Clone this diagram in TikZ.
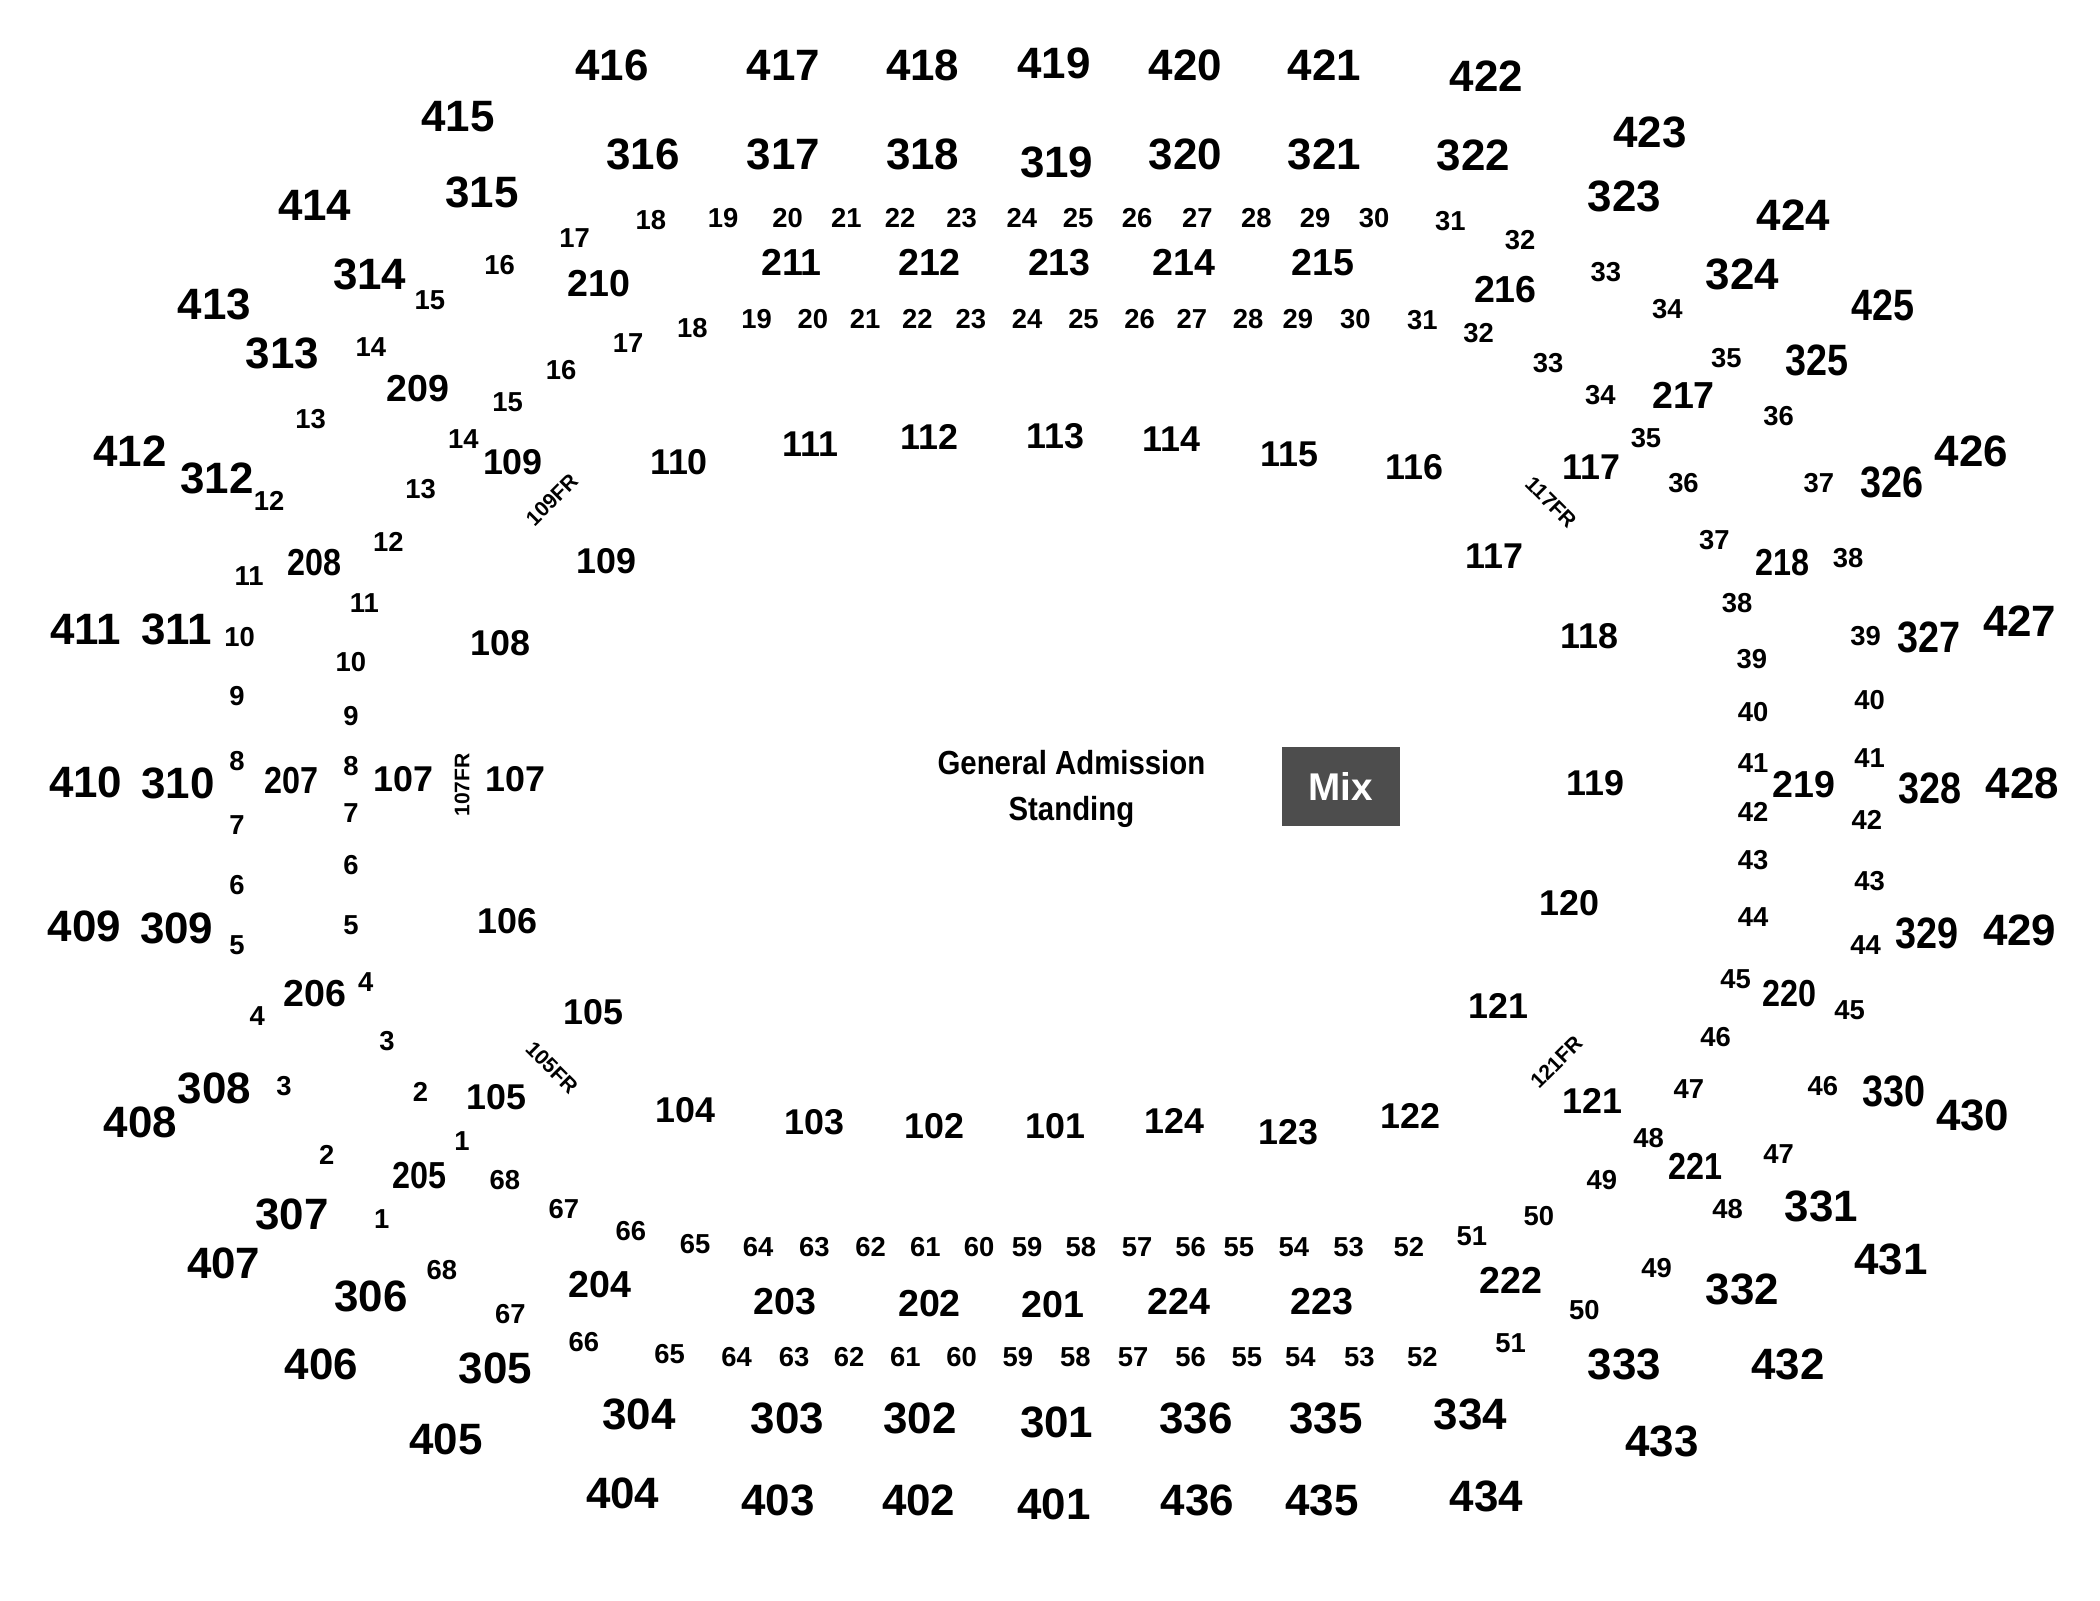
\documentclass[tikz,border=0pt]{standalone}
\usepackage{fontspec}
\usepackage{graphicx}
\setmainfont{Liberation Sans}
\newfontfamily\gafont{Liberation Sans}[FakeStretch=0.88]
\definecolor{mixgray}{RGB}{77,77,77}
\newcommand{\tgt}[1]{\scalebox{0.86}[1]{#1}}
\tikzset{
  sec4/.style={inner sep=0pt,font=\bfseries\fontsize{12.5}{13}\selectfont},
  sec2/.style={inner sep=0pt,font=\bfseries\fontsize{10.7}{11}\selectfont},
  sec1/.style={inner sep=0pt,font=\bfseries\fontsize{10.2}{11}\selectfont},
  rown/.style={inner sep=0pt,font=\bfseries\fontsize{7.8}{8}\selectfont},
  frlbl/.style={inner sep=0pt,font=\bfseries\fontsize{6}{6}\selectfont},
}
\begin{document}
\begin{tikzpicture}[x=0.0133929cm,y=-0.0133929cm]
\useasboundingbox (0,0) rectangle (1568,1195);
% 400 and 300 levels
\foreach \n/\x/\y in {416/457/49, 417/585/49, 418/689/49, 419/787/47, 420/885/49, 421/989/49, 422/1110/57, 423/1232/99, 424/1339/161, 426/1472/337, 427/1508/464, 428/1510/585, 429/1508/695, 430/1473/833, 431/1412/940, 432/1335/1019, 433/1241/1076, 434/1110/1117, 435/987/1120, 436/894/1120, 401/787/1123, 402/686/1120, 403/581/1120, 404/465/1115, 405/333/1075, 406/240/1019, 407/167/943, 408/105/838, 409/63/692, 410/64/584, 411/64/470, 412/97/337, 413/160/227, 414/235/153, 415/342/87,
316/480/115, 317/585/115, 318/689/115, 319/789/121, 320/885/115, 321/989/115, 322/1100/116, 323/1213/147, 324/1301/205, 331/1360/901, 332/1301/963, 333/1213/1019, 334/1098/1056, 335/990/1059, 336/893/1059, 301/789/1062, 302/687/1059, 303/588/1059, 304/477/1056, 305/370/1022, 306/277/968, 307/218/907, 308/160/813, 309/132/693, 310/133/585, 311/132/470, 312/162/357, 313/211/264, 314/276/205, 315/360/144}
  \node[sec4] (s\n) at (\x,\y) {\n};
\foreach \n/\x/\y in {425/1406/228, 325/1357/269, 326/1413/360, 327/1440/476, 328/1441/589, 329/1439/697, 330/1414/815}
  \node[sec4] (s\n) at (\x,\y) {\tgt{\n}};
% 200 level
\foreach \n/\x/\y in {210/447/212, 211/591/196, 212/694/196, 213/791/196, 214/884/196, 215/988/196, 216/1124/216, 217/1257/295, 219/1347/586, 222/1128/956, 223/987/972, 224/880/972, 201/786/974, 202/694/973, 203/586/972, 204/448/959, 206/235/742, 209/312/290}
  \node[sec2] (s\n) at (\x,\y) {\n};
\foreach \n/\x/\y in {218/1331/420, 220/1336/742, 221/1266/871, 205/313/878, 207/218/583, 208/235/420}
  \node[sec2] (s\n) at (\x,\y) {\tgt{\n}};
% 100 level
\foreach \n/\x/\y in {110/507/345, 111/605/332, 112/694/326, 113/788/326, 114/875/328, 115/963/339, 116/1056/349, 118/1187/475, 119/1191/585, 120/1172/674, 122/1053/833, 123/962/845, 124/877/837, 101/788/841, 102/698/841, 103/608/838, 104/512/829, 106/379/688, 108/374/480}
  \node[sec1] (s\n) at (\x,\y) {\n};
\node[sec1] (s109a) at (383,345) {109};
\node[sec1] (s109b) at (453,419) {109};
\node[sec1] (s117a) at (1188,349) {117};
\node[sec1] (s117b) at (1116,415) {117};
\node[sec1] (s121a) at (1119,751) {121};
\node[sec1] (s121b) at (1189,822) {121};
\node[sec1] (s105a) at (443,756) {105};
\node[sec1] (s105b) at (371,819) {105};
\node[sec1] (s107a) at (301,582) {107};
\node[sec1] (s107b) at (385,582) {107};
% FR labels
\node[frlbl,rotate=45] (fr109) at (412,373) {109FR};
\node[frlbl,rotate=-45] (fr117) at (1158,375) {117FR};
\node[frlbl,rotate=90] (fr107) at (345,586) {107FR};
\node[frlbl,rotate=-45] (fr105) at (412,797) {105FR};
\node[frlbl,rotate=45] (fr121) at (1162,793) {121FR};
% outer row numbers
\foreach \n/\x/\y in {1/285/910, 2/244/862, 3/212/811, 4/192/759, 5/177/706, 6/177/661, 7/177/616, 8/177/568, 9/177/520, 10/179/476, 11/186/430, 12/201/374, 13/232/313, 14/277/259, 15/321/224, 16/373/198, 17/429/178, 18/486/164, 19/540/163, 20/588/163, 21/632/163, 22/672/163, 23/718/163, 24/763/163, 25/805/163, 26/849/163, 27/894/163, 28/938/163, 29/982/163, 30/1026/163, 31/1083/165, 32/1135/179, 33/1199/203, 34/1245/231, 35/1289/267, 36/1328/311, 37/1358/361, 38/1380/417, 39/1393/475, 40/1396/523, 41/1396/566, 42/1394/612, 43/1396/658, 44/1393/706, 45/1381/754, 46/1361/811, 47/1328/862, 48/1290/903, 49/1237/947, 50/1183/978, 51/1128/1003, 52/1062/1013, 53/1015/1013, 54/971/1013, 55/931/1013, 56/889/1013, 57/846/1013, 58/803/1013, 59/760/1013, 60/718/1013, 61/676/1013, 62/634/1013, 63/593/1013, 64/550/1013, 65/500/1011, 66/436/1002, 67/381/981, 68/330/948}
  \node[rown] (ro\n) at (\x,\y) {\n};
% inner row numbers
\foreach \n/\x/\y in {1/345/852, 2/314/815, 3/289/777, 4/273/733, 5/262/691, 6/262/646, 7/262/607, 8/262/572, 9/262/535, 10/262/494, 11/272/450, 12/290/405, 13/314/365, 14/346/328, 15/379/300, 16/419/276, 17/469/256, 18/517/245, 19/565/238, 20/607/238, 21/646/238, 22/685/238, 23/725/238, 24/767/238, 25/809/238, 26/851/238, 27/890/238, 28/932/238, 29/969/238, 30/1012/238, 31/1062/239, 32/1104/249, 33/1156/271, 34/1195/295, 35/1229/327, 36/1257/361, 37/1280/403, 38/1297/450, 39/1308/492, 40/1309/532, 41/1309/570, 42/1309/606, 43/1309/642, 44/1309/685, 45/1296/731, 46/1281/774, 47/1261/813, 48/1231/850, 49/1196/881, 50/1149/908, 51/1099/923, 52/1052/931, 53/1007/931, 54/966/931, 55/925/931, 56/889/931, 57/849/931, 58/807/931, 59/767/931, 60/731/931, 61/691/931, 62/650/931, 63/608/931, 64/566/931, 65/519/929, 66/471/919, 67/421/903, 68/377/881}
  \node[rown] (ri\n) at (\x,\y) {\n};
% center
\node[inner sep=0pt,align=center,font=\gafont\bfseries\fontsize{9.5}{12.9}\selectfont] (ga) at (800,589) {General Admission\\Standing};
\node[fill=mixgray,text=white,inner sep=0pt,minimum width=1.179cm,minimum height=0.79cm,font=\bfseries\fontsize{11}{11}\selectfont] (mix) at (1001,587.5) {Mix};
\end{tikzpicture}
\end{document}
